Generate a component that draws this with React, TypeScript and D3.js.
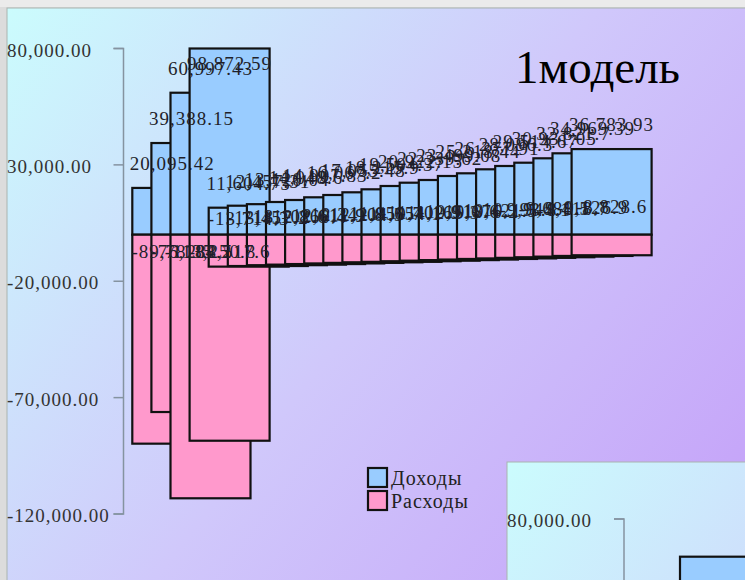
import React from "react";
import * as d3 from "d3";

// Reporting periods shared by both models
const periods = [
  "1", "2", "3", "4", "5", "6", "7", "8", "9", "10", "11", "12",
  "13", "14", "15", "16", "17", "18", "19", "20", "21", "22", "23", "24",
];

// Model 1: income and expense per period
const income = [
  20095.42, 39388.15, 60997.43, 98872.59, 11604.75, 12457.31, 13120.04, 14048.6,
  14907.83, 16067.2, 17055.48, 18215.9, 19504.37, 20922.15, 22339.62, 23499.08,
  25218.44, 26377.91, 28096.3, 29514.67, 30931.05, 32821.7, 34969.39, 36783.93,
];
const expense = [
  -89782.5, -76184.2, -113250.8, -88517.6, -13714.3, -13457.2, -13102.6, -12860.4,
  -12611.9, -12342.8, -12104.5, -11850.7, -11654.1, -11402.9, -11165.3, -10918.6,
  -10676.2, -10421.5, -10193.8, -9944.1, -9688.5, -9418.7, -9126.9, -8828.6,
];

// Model 2: first periods
const income2 = [18420.5, 35610.2, 63804.7];

const yTicks = [80000, 30000, -20000, -70000, -120000];
const seriesNames = ["Доходы", "Расходы"];
const title = "1модель";

const FONT = "'Liberation Serif', 'Times New Roman', serif";
const BLUE = "#99ccff";
const PINK = "#ff99cc";
const BAR_WIDTH = 80;
const STEP = 19.1;

const locale = d3.formatLocale({
  decimal: ".",
  thousands: ",",
  grouping: [3],
  currency: ["$", ""],
  minus: "-",
});
const fmtAxis = locale.format(",.2f");
const fmtValue = (v: number) =>
  v.toLocaleString("en-US", { maximumFractionDigits: 2 });

type PanelProps = {
  id: string;
  left: number;
  top: number;
  axisX: number;
  plotTop: number;
  plotBottom: number;
  barStart: number;
  incomeData: number[];
  expenseData?: number[];
  showLabels: boolean;
};

function Panel({
  id, left, top, axisX, plotTop, plotBottom, barStart,
  incomeData, expenseData, showLabels,
}: PanelProps) {
  const y = d3
    .scaleLinear()
    .domain([yTicks[0], yTicks[yTicks.length - 1]])
    .range([plotTop, plotBottom])
    .clamp(true);
  const x = d3
    .scaleBand<string>()
    .domain(periods)
    .range([barStart, barStart + STEP * periods.length])
    .padding(0);
  const y0 = y(0);
  const n = incomeData.length;
  const cats = periods.slice(0, n);

  return (
    <g>
      <defs>
        <linearGradient
          id={id}
          gradientUnits="userSpaceOnUse"
          x1={left}
          y1={top}
          x2={left + 820}
          y2={top + 640}
        >
          <stop offset="0" stopColor="#cbfcfd" />
          <stop offset="0.45" stopColor="#d0c8fb" />
          <stop offset="1" stopColor="#c196f8" />
        </linearGradient>
      </defs>
      <rect
        x={left}
        y={top}
        width={900}
        height={700}
        fill={`url(#${id})`}
        stroke="#a9b3b0"
        strokeWidth={1}
      />

      {/* value axis */}
      <path
        d={`M${axisX - 10},${plotTop}H${axisX}V${plotBottom}H${axisX - 10}`}
        fill="none"
        stroke="#8593a0"
        strokeWidth={1.5}
      />
      {yTicks.map((t) => (
        <g key={t}>
          <line x1={axisX - 10} x2={axisX} y1={y(t)} y2={y(t)} stroke="#8593a0" strokeWidth={1.5} />
          <text
            x={left}
            y={y(t) + 8}
            fontSize={19}
            letterSpacing={1}
            fill="#333"
          >
            {fmtAxis(t)}
          </text>
        </g>
      ))}

      {/* wide bars, each later one laid over the previous */}
      {cats.map((p, i) => {
        const bx = x(p)!;
        const yi = y(incomeData[i]);
        return (
          <g key={p}>
            <rect
              x={bx}
              y={yi}
              width={BAR_WIDTH}
              height={y0 - yi}
              fill={BLUE}
              stroke="#111"
              strokeWidth={2.2}
            />
            {expenseData && (
              <rect
                x={bx}
                y={y0}
                width={BAR_WIDTH}
                height={y(expenseData[i]) - y0}
                fill={PINK}
                stroke="#111"
                strokeWidth={2.2}
              />
            )}
          </g>
        );
      })}

      {showLabels &&
        cats.map((p, i) => {
          const cx = x(p)! + BAR_WIDTH / 2;
          const yi = Math.max(y(incomeData[i]) - 18, plotTop + 21);
          return (
            <text
              key={"i" + p}
              x={cx}
              y={yi}
              textAnchor="middle"
              fontSize={19}
              letterSpacing={1}
              fill="#1f1f2a"
            >
              {fmtValue(incomeData[i])}
            </text>
          );
        })}
      {showLabels &&
        expenseData &&
        cats.map((p, i) => {
          const cx = x(p)! + BAR_WIDTH / 2;
          // labels hang above the lower edge, capped just under the zero line
          const ye = Math.min(y(expenseData[i]) - 42, y0 + 23);
          return (
            <text
              key={"e" + p}
              x={cx}
              y={ye}
              textAnchor="middle"
              fontSize={19}
              letterSpacing={1}
              fill="#1f1f2a"
            >
              {fmtValue(expenseData[i])}
            </text>
          );
        })}
    </g>
  );
}

export default function App() {
  return (
    <svg
      width={745}
      height={580}
      style={{ position: "absolute", left: 0, top: 0, display: "block" }}
      fontFamily={FONT}
    >
      <rect width={745} height={580} fill="#dcdcdc" />
      <rect x={0} y={0} width={745} height={7} fill="#ebebeb" />

      <Panel
        id="bg1"
        left={7}
        top={8}
        axisX={123.5}
        plotTop={48.5}
        plotBottom={514}
        barStart={132.3}
        incomeData={income}
        expenseData={expense}
        showLabels={true}
      />

      <text x={515} y={83} fontSize={47} fill="#000">
        {title}
      </text>

      {/* legend */}
      {seriesNames.map((name, i) => (
        <g key={name} transform={`translate(367,${467 + i * 23})`}>
          <rect
            x={1}
            y={1}
            width={19}
            height={19}
            fill={i === 0 ? BLUE : PINK}
            stroke="#111"
            strokeWidth={2.2}
          />
          <text x={24} y={18} fontSize={20} letterSpacing={1} fill="#222">
            {name}
          </text>
        </g>
      ))}

      <Panel
        id="bg2"
        left={507}
        top={462}
        axisX={624}
        plotTop={519}
        plotBottom={984.5}
        barStart={641.8}
        incomeData={income2}
        showLabels={false}
      />
    </svg>
  );
}
